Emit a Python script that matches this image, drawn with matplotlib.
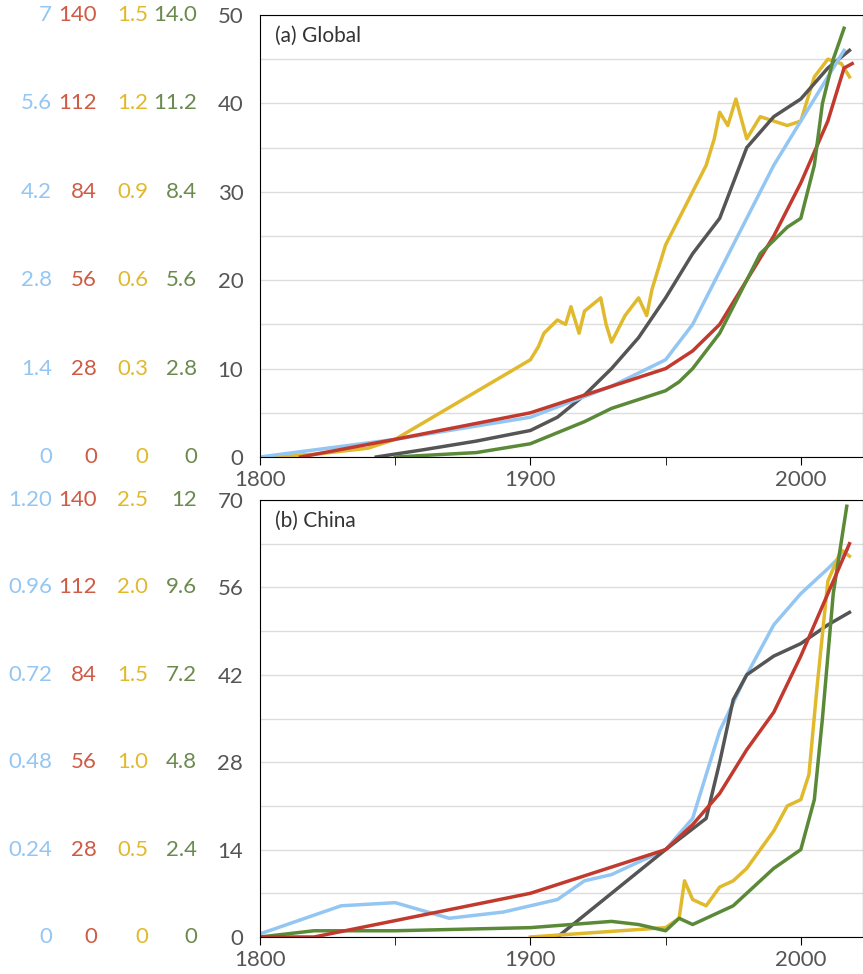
import numpy as np
import matplotlib.pyplot as plt

plt.rcParams['font.family'] = ['Lato', 'DejaVu Sans']
plt.rcParams['font.size'] = 13

BLUE = '#93c6f2'
RED = '#c23a2e'
REDTXT = '#cf5a45'
YEL = '#e1b92c'
GRN = '#5a8a38'
GRNTXT = '#6b8a4e'
GRAY = '#555555'

# panel (a), values on the main (0-50) scale
a_gray_x = [1843, 1860, 1880, 1900, 1910, 1920, 1930, 1940, 1950, 1960, 1970, 1975, 1980, 1990, 2000, 2010, 2018]
a_gray_y = [0, 0.8, 1.8, 3, 4.5, 7, 10, 13.5, 18, 23, 27, 31, 35, 38.5, 40.5, 44, 46]
a_blue_x = [1800, 1850, 1900, 1930, 1950, 1960, 1970, 1980, 1990, 2000, 2010, 2016]
a_blue_y = [0, 2, 4.5, 8, 11, 15, 21, 27, 33, 38, 43, 46]
a_red_x = [1815, 1850, 1900, 1930, 1950, 1960, 1970, 1980, 1990, 2000, 2010, 2016, 2019]
a_red_y = [0, 2, 5, 8, 10, 12, 15, 20, 25, 31, 38, 44, 44.5]
a_grn_x = [1850, 1880, 1900, 1920, 1930, 1950, 1955, 1960, 1970, 1980, 1985, 1995, 2000, 2005, 2008, 2012, 2016]
a_grn_y = [0, 0.5, 1.5, 4, 5.5, 7.5, 8.5, 10, 14, 20, 23, 26, 27, 33, 40, 45, 48.5]
a_yel_x = [1800, 1820, 1840, 1850, 1900, 1903, 1905, 1910, 1913, 1915, 1918, 1920, 1922, 1926, 1928, 1930,
           1935, 1940, 1943, 1945, 1950, 1955, 1960, 1965, 1968, 1970, 1973, 1976, 1980, 1985, 1990, 1995,
           2000, 2005, 2010, 2015, 2018]
a_yel_y = [0, 0.3, 1, 2, 11, 12.5, 14, 15.5, 15, 17, 14, 16.5, 17, 18, 15, 13,
           16, 18, 16, 19, 24, 27, 30, 33, 36, 39, 37.5, 40.5, 36, 38.5, 38, 37.5,
           38, 43, 45, 44.5, 43]

# panel (b), values on the main (0-70) scale
b_blue_x = [1800, 1830, 1850, 1870, 1890, 1900, 1910, 1920, 1930, 1950, 1960, 1970, 1980, 1990, 2000, 2010, 2017]
b_blue_y = [0.5, 5, 5.5, 3, 4, 5, 6, 9, 10, 14, 19, 33, 42, 50, 55, 59, 62]
b_red_x = [1800, 1820, 1900, 1950, 1960, 1970, 1980, 1990, 2000, 2010, 2018]
b_red_y = [0, 0, 7, 14, 18, 23, 30, 36, 45, 55, 63]
b_gray_x = [1910, 1930, 1950, 1965, 1970, 1975, 1980, 1990, 2000, 2010, 2018]
b_gray_y = [0, 7, 14, 19, 28, 38, 42, 45, 47, 50, 52]
b_yel_x = [1900, 1950, 1955, 1957, 1960, 1965, 1970, 1975, 1980, 1990, 1995, 2000, 2003, 2006, 2010, 2015, 2018]
b_yel_y = [0, 1.5, 3, 9, 6, 5, 8, 9, 11, 17, 21, 22, 26, 40, 57, 62, 61]
b_grn_x = [1800, 1820, 1850, 1900, 1930, 1940, 1950, 1955, 1960, 1965, 1970, 1975, 1980, 1990, 2000, 2005, 2008, 2012, 2017]
b_grn_y = [0, 1, 1, 1.5, 2.5, 2, 1, 3, 2, 3, 4, 5, 7, 11, 14, 22, 35, 55, 69]

a_cols = [['7', '5.6', '4.2', '2.8', '1.4', '0'],
          ['140', '112', '84', '56', '28', '0'],
          ['1.5', '1.2', '0.9', '0.6', '0.3', '0'],
          ['14.0', '11.2', '8.4', '5.6', '2.8', '0']]
b_cols = [['1.20', '0.96', '0.72', '0.48', '0.24', '0'],
          ['140', '112', '84', '56', '28', '0'],
          ['2.5', '2.0', '1.5', '1.0', '0.5', '0'],
          ['12', '9.6', '7.2', '4.8', '2.4', '0']]
col_colors = [BLUE, REDTXT, YEL, GRNTXT]
col_x = [52, 97, 148, 197]

fig = plt.figure(figsize=(8.63, 9.74), dpi=100)
W, H = 863, 974
axes = [fig.add_axes([260 / W, 1 - 457 / H, 603 / W, 442 / H]),
        fig.add_axes([260 / W, 1 - 937 / H, 603 / W, 437 / H])]

panels = [
    (axes[0], 50, 10, 5, '(a) Global', a_cols,
     [(a_yel_x, a_yel_y, YEL), (a_gray_x, a_gray_y, GRAY), (a_blue_x, a_blue_y, BLUE),
      (a_red_x, a_red_y, RED), (a_grn_x, a_grn_y, GRN)]),
    (axes[1], 70, 14, 7, '(b) China', b_cols,
     [(b_blue_x, b_blue_y, BLUE), (b_gray_x, b_gray_y, GRAY), (b_yel_x, b_yel_y, YEL),
      (b_grn_x, b_grn_y, GRN), (b_red_x, b_red_y, RED)]),
]

for ax, top, step, minor, title, cols, series in panels:
    for x, y, c in series:
        ax.plot(x, y, color=c, lw=2.5)
    ax.set_xlim(1800, 2023)
    ax.set_ylim(0, top)
    ax.set_xticks([1800, 1900, 2000])
    ax.set_xticks([1850, 1950], minor=True)
    ax.set_yticks(np.arange(0, top + 1, step))
    ax.set_yticks(np.arange(0, top + 1, minor), minor=True)
    ax.grid(True, axis='y', which='both', color='#dddddd', lw=1)
    ax.set_axisbelow(True)
    ax.tick_params(axis='y', which='both', length=0, labelcolor=GRAY, labelsize=16, pad=12)
    ax.tick_params(axis='x', which='both', direction='out', length=6, labelsize=16, labelcolor=GRAY)
    ax.text(0.025, 0.975, title, transform=ax.transAxes, va='top', fontsize=15, color='#333333')
    for vals, c, xp in zip(cols, col_colors, col_x):
        for i, v in enumerate(vals):
            yv = top - i * step
            _, yd = ax.transData.transform((1800, yv))
            fig.text(xp / W, yd / H, v, color=c, ha='right', va='center', fontsize=16,
                     transform=fig.transFigure)

fig.savefig('out.png', dpi=100)
